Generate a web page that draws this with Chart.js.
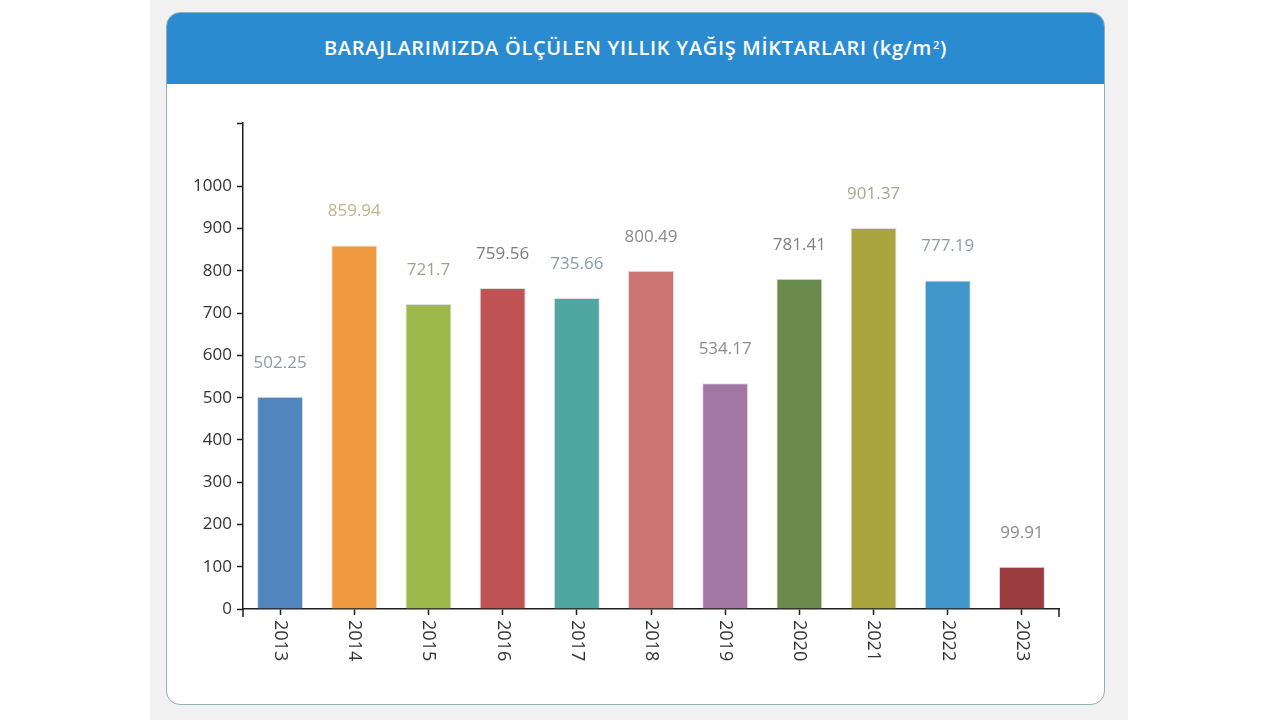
<!DOCTYPE html>
<html lang="tr">
<head>
<meta charset="utf-8">
<script src="https://cdn.jsdelivr.net/npm/chart.js@4/dist/chart.umd.min.js"></script>
<style>
  html, body { margin: 0; padding: 0; }
  body { width: 1280px; height: 720px; background: #fff; position: relative; overflow: hidden; font-family: "Open Sans", sans-serif; }
  .page { position: absolute; left: 150px; top: 0; width: 978px; height: 720px; background: #f1f1f1; }
  .card { position: absolute; left: 166px; top: 12px; width: 937px; height: 691px; background: #fff;
          border: 1px solid #8fb0b4; border-radius: 14px; overflow: hidden; }
  .head { height: 69px; padding-bottom: 2px; background: #2a8bd0; color: #fff; font-weight: 600; font-size: 20px;
          display: flex; align-items: center; justify-content: center; letter-spacing: 0.7px; }
  .head sup { font-size: 11px; position: relative; top: -3px; margin-left: 1px; }
  #wrap { position: absolute; left: 166px; top: 84px; width: 939px; height: 620px; }
</style>
</head>
<body>
<div class="page"></div>
<div class="card"><div class="head">BARAJLARIMIZDA ÖLÇÜLEN YILLIK YAĞIŞ MİKTARLARI (kg/m<sup>2</sup>)</div></div>
<div id="wrap"><canvas id="chart"></canvas></div>
<script>
// yillar ve yagis miktarlari
const years = ["2013", "2014", "2015", "2016", "2017", "2018", "2019", "2020", "2021", "2022", "2023"];
const rainfall = [502.25, 859.94, 721.7, 759.56, 735.66, 800.49, 534.17, 781.41, 901.37, 777.19, 99.91];
const yTicks = [0, 100, 200, 300, 400, 500, 600, 700, 800, 900, 1000];
const barColors = ["#5085be", "#ef9a40", "#9cb84b", "#bf5252", "#4fa6a3", "#cd7572", "#a277a3", "#6a8a4c", "#a9a43e", "#4196cb", "#9b3d40"];
const labelColors = ["#8c9aaa", "#c4b48c", "#9aa38a", "#7c7c7c", "#8a9aa2", "#8a8a8a", "#8c8a90", "#808080", "#a4a88a", "#8c9ca8", "#8a8a8a"];

const axisColor = "#1e1e1e";
const font = "Open Sans";

// etiketleri ve dis tikleri cizen eklenti
const extras = {
    id: "extras",
    afterDatasetsDraw(chart) {
        const ctx = chart.ctx;
        const meta = chart.getDatasetMeta(0);
        ctx.save();
        ctx.font = "17px " + font;
        ctx.textAlign = "center";
        ctx.textBaseline = "middle";
        meta.data.forEach((bar, i) => {
            ctx.fillStyle = labelColors[i];
            ctx.fillText(String(rainfall[i]), bar.x, bar.y - 34);
        });
        ctx.restore();
    },
    afterDraw(chart) {
        const ctx = chart.ctx;
        const x = chart.scales.x;
        const area = chart.chartArea;
        ctx.save();
        ctx.strokeStyle = axisColor;
        ctx.lineWidth = 1.5;
        ctx.beginPath();
        ctx.moveTo(area.left, area.bottom);
        ctx.lineTo(area.left, area.bottom + 8);
        ctx.moveTo(area.right, area.bottom);
        ctx.lineTo(area.right, area.bottom + 8);
        ctx.stroke();
        ctx.fillStyle = "#333";
        ctx.font = "18px " + font;
        ctx.textAlign = "left";
        ctx.textBaseline = "middle";
        years.forEach((y, i) => {
            const px = x.getPixelForValue(i);
            ctx.save();
            ctx.translate(px, area.bottom + 11);
            ctx.rotate(Math.PI / 2);
            ctx.fillText(y, 0, 0);
            ctx.restore();
        });
        ctx.restore();
    }
};

new Chart(document.getElementById("chart"), {
    type: "bar",
    data: {
        labels: years,
        datasets: [{
            data: rainfall,
            backgroundColor: barColors,
            borderColor: "rgba(0,0,0,0.12)",
            borderWidth: 1,
            barPercentage: 0.62,
            categoryPercentage: 1
        }]
    },
    options: {
        responsive: true,
        maintainAspectRatio: false,
        animation: false,
        layout: { padding: { left: 0, right: 46, top: 39, bottom: 0 } },
        plugins: { legend: { display: false }, tooltip: { enabled: false } },
        scales: {
            x: {
                offset: true,
                border: { color: axisColor, width: 1.5 },
                grid: { drawOnChartArea: false, drawTicks: true, tickLength: 6, tickColor: axisColor, tickWidth: 1.5, offset: false },
                ticks: { display: false },
                afterFit(scale) { scale.height = 95; }
            },
            y: {
                min: 0,
                max: 1150,
                border: { color: axisColor, width: 1.5 },
                grid: { drawOnChartArea: false, drawTicks: true, tickLength: 6, tickColor: axisColor, tickWidth: 1.5 },
                afterBuildTicks(scale) {
                    scale.ticks = yTicks.concat([1150]).map(v => ({ value: v }));
                },
                ticks: {
                    color: "#333",
                    font: { family: font, size: 17 },
                    padding: 5,
                    callback: (v) => (v > 1000 ? "" : v)
                },
                afterFit(scale) { scale.width = 77; }
            }
        }
    },
    plugins: [extras]
});
</script>
</body>
</html>
